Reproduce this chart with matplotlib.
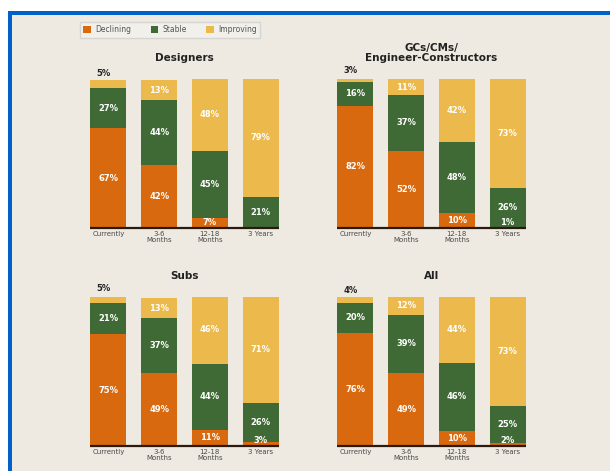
import matplotlib
matplotlib.use("Agg")
import matplotlib.pyplot as plt
from matplotlib.patches import Rectangle, Patch

# data (% of respondents)
periods = ["Currently", "3-6\nMonths", "12-18\nMonths", "3 Years"]
series = ["Declining", "Stable", "Improving"]

designers_declining = [67, 42, 7, 0]
designers_stable = [27, 44, 45, 21]
designers_improving = [5, 13, 48, 79]

gcs_declining = [82, 52, 10, 1]
gcs_stable = [16, 37, 48, 26]
gcs_improving = [3, 11, 42, 73]

subs_declining = [75, 49, 11, 3]
subs_stable = [21, 37, 44, 26]
subs_improving = [5, 13, 46, 71]

all_declining = [76, 49, 10, 2]
all_stable = [20, 39, 46, 25]
all_improving = [4, 12, 44, 73]

panels = [
    ("Designers", designers_declining, designers_stable, designers_improving),
    ("GCs/CMs/\nEngineer-Constructors", gcs_declining, gcs_stable, gcs_improving),
    ("Subs", subs_declining, subs_stable, subs_improving),
    ("All", all_declining, all_stable, all_improving),
]

ORANGE = "#d9690f"
GREEN = "#3f6a35"
YELLOW = "#ebb94c"
BG = "#eeeae1"
BLUE = "#0062c9"
colors = [ORANGE, GREEN, YELLOW]

plt.rcParams["font.family"] = ["Liberation Sans Narrow", "DejaVu Sans"]

W, H = 610, 471
fig = plt.figure(figsize=(W / 100, H / 100), dpi=100, facecolor="white")
fig.patches.append(Rectangle((8 / W, 0), 1, 1 - 11 / H, transform=fig.transFigure,
                             facecolor=BLUE, edgecolor="none", zorder=-2))
fig.patches.append(Rectangle((12 / W, 0), 1, 1 - 15 / H, transform=fig.transFigure,
                             facecolor=BG, edgecolor="none", zorder=-1))

# axes placement in pixels: (left, baseline)
positions = [(83, 228), (330, 228), (83, 446), (330, 446)]
ax_w, ax_h = 203, 149
bw = 0.71

for (title, dec, sta, imp), (lx, by) in zip(panels, positions):
    ax = fig.add_axes([lx / W, (H - by) / H, ax_w / W, ax_h / H])
    ax.set_facecolor("none")
    x = range(len(periods))
    bottoms = [0] * len(periods)
    for vals, col in zip([dec, sta, imp], colors):
        ax.bar(x, vals, bw, bottom=bottoms, color=col, edgecolor="none")
        for i, v in enumerate(vals):
            if v == 0:
                continue
            if col == YELLOW and v < 8:
                ax.text(i - 0.1, bottoms[i] + v + 1.5, f"{v}%", ha="center", va="bottom",
                        fontsize=6, fontweight="bold", color="#222222")
            elif v < 5:
                ax.text(i, 0.5, f"{v}%", ha="center", va="bottom",
                        fontsize=6, fontweight="bold", color="white")
            else:
                ax.text(i, bottoms[i] + v / 2, f"{v}%", ha="center", va="center",
                        fontsize=6, fontweight="bold", color="white")
        bottoms = [b + v for b, v in zip(bottoms, vals)]
    ax.plot([-bw / 2, 3 + bw / 2], [0, 0], color="#2a1a10", lw=1.6,
            solid_capstyle="butt", clip_on=False)
    ax.set_xlim(-0.5, 3.5)
    ax.set_ylim(0, 100)
    ax.set_xticks(list(x))
    ax.set_xticklabels(periods, fontsize=5, color="#4a4a4a", linespacing=0.95)
    ax.tick_params(length=0, pad=2)
    ax.set_yticks([])
    for s in ax.spines.values():
        s.set_visible(False)
    ax.set_title(title, fontsize=7.5, fontweight="bold", color="#222222",
                 pad=13, linespacing=1.05)

handles = [Patch(facecolor=c, edgecolor="none") for c in colors]
fig.legend(handles, series, loc="center", bbox_to_anchor=(170 / W, 1 - 30 / H),
           ncol=3, fontsize=5.5, frameon=True, facecolor="#f4f2ee", edgecolor="#cfcfcf",
           handlelength=1.0, handleheight=1.0, handletextpad=0.5, columnspacing=2.6,
           borderpad=0.45, labelcolor="#555555", fancybox=False)

fig.savefig("out.png", dpi=100)
